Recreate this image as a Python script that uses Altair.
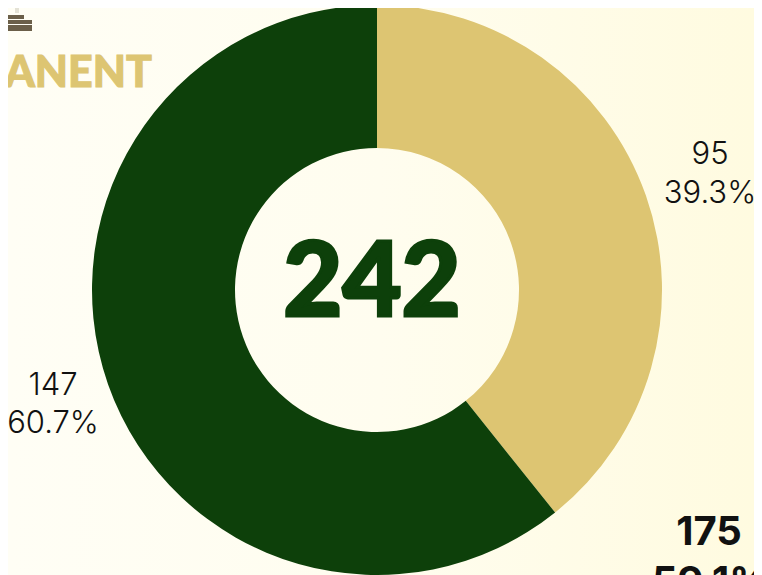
import altair as alt
import pandas as pd

values = [95, 147]
order = [1, 2]
names = ["A", "B"]
colors = ["#DDC572", "#0D400A"]
labels = [
    {"t": "95", "x": 710, "y": 155, "s": 31, "w": 300, "c": "#111111"},
    {"t": "39.3%", "x": 710, "y": 194, "s": 31, "w": 300, "c": "#111111"},
    {"t": "147", "x": 53, "y": 386, "s": 31, "w": 300, "c": "#111111"},
    {"t": "60.7%", "x": 53, "y": 424, "s": 31, "w": 300, "c": "#111111"},
    {"t": "175", "x": 709, "y": 533, "s": 40, "w": 700, "c": "#111111"},
    {"t": "59.1%", "x": 711, "y": 583, "s": 40, "w": 700, "c": "#111111"},
]
books_x2 = [24, 32, 32]
books_y = [15, 20, 25]
books_y2 = [19, 24, 31]
W, H = 746, 567
cx, cy = 369, 282

df = pd.DataFrame({"value": values, "order": order, "name": names})
one = pd.DataFrame({"a": [1]})

grad = alt.LinearGradient(
    gradient="linear",
    x1=0, x2=1, y1=0, y2=0,
    stops=[
        alt.GradientStop(color="#FFFEF5", offset=0),
        alt.GradientStop(color="#FFFDEF", offset=0.5),
        alt.GradientStop(color="#FFFBE0", offset=1),
    ],
)
bg = alt.Chart(one).mark_rect(color=grad).encode(
    x=alt.value(0), x2=alt.value(W), y=alt.value(0), y2=alt.value(H))

arc = alt.Chart(df).mark_arc(radius=285, radius2=142).encode(
    theta=alt.Theta("value:Q", stack=True, scale=alt.Scale(range=[0, 6.28318530718])),
    order=alt.Order("order:Q"),
    color=alt.Color("name:N", scale=alt.Scale(domain=names, range=colors), legend=None),
    x=alt.value(cx), y=alt.value(cy),
)

layers = [bg, arc]
for l in labels:
    layers.append(alt.Chart(pd.DataFrame({"t": [l["t"]]})).mark_text(
        font="Inter", fontSize=l["s"], fontWeight=l["w"], color=l["c"], align="center", baseline="middle"
    ).encode(text="t:N", x=alt.value(l["x"] - 8), y=alt.value(l["y"] - 8)))

layers.append(alt.Chart(pd.DataFrame({"t": ["242"]})).mark_text(
    font="Lato", fontSize=102, fontWeight=900, color="#0D400A", stroke="#0D400A", strokeWidth=3,
    align="center", baseline="middle"
).encode(text="t:N", x=alt.value(364), y=alt.value(277)))

layers.append(alt.Chart(pd.DataFrame({"t": ["PERMANENT"]})).mark_text(
    font="Lato", fontSize=43, fontWeight=900, color="#DDC572", stroke="#DDC572", strokeWidth=1,
    align="right", baseline="middle"
).encode(text="t:N", x=alt.value(144), y=alt.value(66)))

layers.append(alt.Chart(one).mark_rect(color="#E4E2D6").encode(
    x=alt.value(7), x2=alt.value(11), y=alt.value(0), y2=alt.value(5)))

for x2, y1, y2 in zip(books_x2, books_y, books_y2):
    layers.append(alt.Chart(one).mark_rect(color="#6B5F49").encode(
        x=alt.value(0), x2=alt.value(x2 - 8), y=alt.value(y1 - 8), y2=alt.value(y2 - 8)))

chart = alt.layer(*layers).properties(
    width=W, height=H, padding=0, autosize=alt.AutoSizeParams(type="none"), background="#FFFEF5"
).configure_view(stroke=None)
chart.save("out.html", embed_options={"renderer": "svg", "actions": False})
